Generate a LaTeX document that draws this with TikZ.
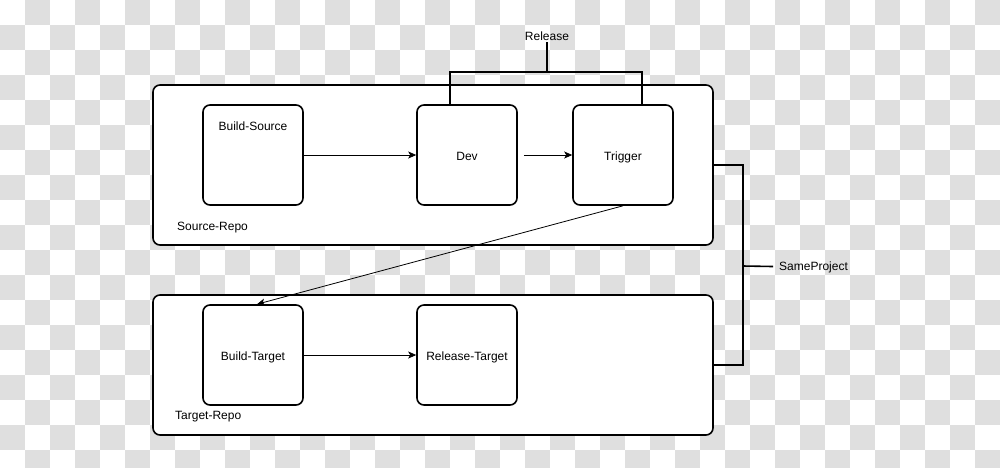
\documentclass[tikz,border=0pt]{standalone}
\usepackage{fontspec}
\setmainfont{Liberation Sans}
\usetikzlibrary{arrows.meta}
\definecolor{checker}{HTML}{DFDFDF}
\definecolor{ink}{HTML}{000000}
\tikzset{
  container/.style={draw=ink, line width=1.6pt, rounded corners=7pt, fill=white, minimum width=560pt, inner sep=0pt},
  stepbox/.style={draw=ink, line width=1.6pt, rounded corners=7pt, fill=white, minimum width=100pt, minimum height=100pt, inner sep=0pt},
  txt/.style={inner sep=0pt, text height=8.6pt, text depth=0pt, font=\fontsize{12}{14}\selectfont},
  conn/.style={draw=ink, line width=0.8pt, -{Stealth[length=8pt,width=7pt,inset=2pt]}},
  bracket/.style={draw=ink, line width=1.6pt}
}
\begin{document}
\begin{tikzpicture}[x=1pt,y=-1pt]
\useasboundingbox (0,0) rectangle (1000,467);
% transparency checkerboard
\fill[white] (0,0) rectangle (1000,467);
\begin{scope}
\clip (0,0) rectangle (1000,467);
\foreach \i in {0,...,39}{
  \foreach \j in {0,...,18}{
    \ifodd\numexpr\i+\j\relax
      \fill[checker] (\i*25,\j*25) rectangle ++(25,25);
    \fi
  }
}
\end{scope}
% containers
\node[container, minimum height=160pt] (srcrepo) at (433,165) {};
\node[container, minimum height=140pt] (tgtrepo) at (433,365) {};
\node[txt, anchor=west] (srclbl) at (177,226.5) {Source-Repo};
\node[txt, anchor=west] (tgtlbl) at (175,415.5) {Target-Repo};
% boxes
\node[stepbox] (bs) at (253,155) {};
\node[txt] (bslbl) at (253,126.5) {Build-Source};
\node[stepbox] (dev) at (467,155) {};
\node[txt] at ([yshift=-1.5pt]dev.center) {Dev};
\node[stepbox] (trig) at (623,155) {};
\node[txt] at ([yshift=-1.5pt]trig.center) {Trigger};
\node[stepbox] (bt) at (253,355) {};
\node[txt] at ([yshift=-1.5pt]bt.center) {Build-Target};
\node[stepbox] (rt) at (467,355) {};
\node[txt] at ([yshift=-1.5pt]rt.center) {Release-Target};
% connectors
\draw[conn] (bs.east) -- (dev.west);
\draw[conn] ([xshift=6pt]dev.east) -- (trig.west);
\draw[conn] (trig.south) -- ([xshift=4pt]bt.north);
\draw[conn] (bt.east) -- (rt.west);
% Release bracket
\node[txt] (rel) at (547,36.5) {Release};
\coordinate (relmid) at (547,72);
\draw[bracket] ([xshift=-17pt]dev.north) |- (relmid) -| ([xshift=19pt]trig.north);
\draw[bracket] (relmid) -- ([yshift=-1pt]rel.south);
% SameProject bracket
\node[txt, anchor=west] (sp) at (779,266.5) {SameProject};
\coordinate (spmid) at (743,266);
\draw[bracket] (srcrepo.east) -- (743,165) -- (743,365) -- (tgtrepo.east);
\draw[bracket] (spmid) -- ([xshift=-6pt]sp.west);
\end{tikzpicture}
\end{document}
